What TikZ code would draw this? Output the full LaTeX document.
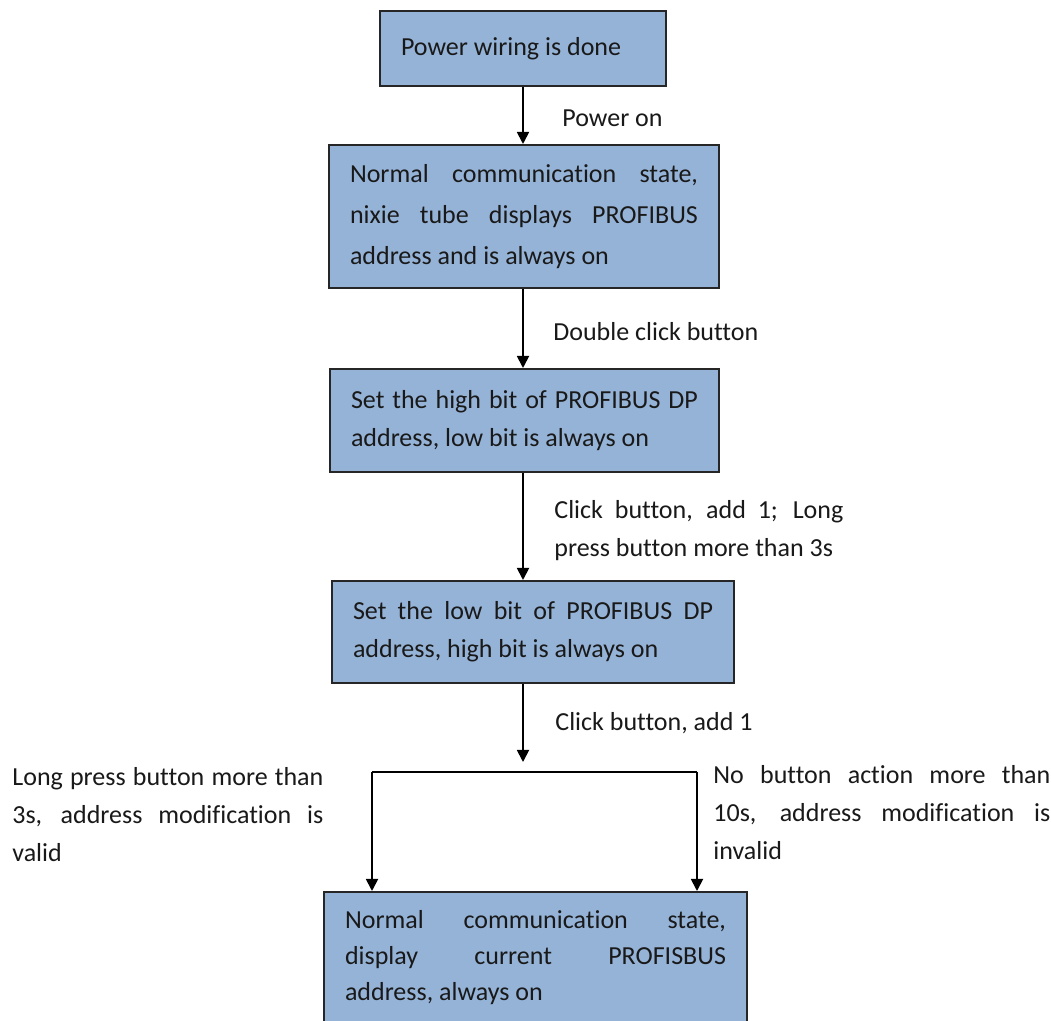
\documentclass[tikz,border=0pt]{standalone}
\usepackage{fontspec}
\setmainfont[Ligatures={NoCommon}]{Carlito}
\usetikzlibrary{arrows.meta}
\hyphenpenalty=10000
\tolerance=10000
\hbadness=10000
\definecolor{boxblue}{RGB}{149,179,215}
\definecolor{boxline}{RGB}{38,38,38}
\definecolor{inktext}{RGB}{25,25,25}
\begin{document}
\begin{tikzpicture}[x=0.5pt,y=-0.5pt,
  statebox/.style={draw=boxline, fill=boxblue, line width=1pt, inner xsep=10.5pt, inner ysep=0pt, align=justify, text=inktext, font=\fontsize{13}{19}\selectfont},
  condtext/.style={inner sep=0pt, anchor=west, align=justify, text=inktext, font=\fontsize{13}{19}\selectfont}]
\tikzset{>={Triangle[length=6pt,width=6pt]}}
\clip (0,0) rectangle (1051,1021);
\fill[white] (0,0) rectangle (1051,1021);
\node[statebox, text width=122pt, minimum height=37.5pt] (wired) at (523,48.5) {Power wiring is done};
\node[statebox, text width=174pt, minimum height=71.5pt, font=\fontsize{13}{20.5}\selectfont] (normal) at (524,216.5) {Normal communication state,\linebreak nixie tube displays PROFIBUS\linebreak address and is always on};
\node[statebox, text width=173.5pt, minimum height=51.5pt] (sethigh) at (524.5,420.5) {Set the high bit of PROFIBUS DP\linebreak address, low bit is always on};
\node[statebox, text width=180pt, minimum height=51pt] (setlow) at (533,632) {Set the low bit of PROFIBUS DP\linebreak address, high bit is always on};
\node[statebox, text width=190.5pt, minimum height=66pt, font=\fontsize{13}{18}\selectfont] (finish) at (535.5,958) {Normal communication state,\linebreak display current PROFISBUS\linebreak address, always on};
\node[condtext] (lblpower) at (562,118) {Power on};
\node[condtext] (lbldouble) at (553,332) {Double click button};
\node[condtext, text width=144.5pt] (lblhigh) at (554,531) {Click button, add 1; Long\linebreak press button more than 3s};
\node[condtext] (lbllow) at (555,723) {Click button, add 1};
\node[condtext, text width=155.5pt] (lblvalid) at (12,814.5) {Long press button more than\linebreak 3s, address modification is\linebreak valid};
\node[condtext, text width=168.5pt] (lblinvalid) at (713,812.5) {No button action more than\linebreak 10s, address modification is\linebreak invalid};
\coordinate (axis) at (523,0);
\coordinate (split) at (523,772);
\coordinate (splitL) at (372,772);
\coordinate (splitR) at (697,772);
\begin{scope}[line width=0.9pt]
\draw[->] (wired.south -| axis) -- (normal.north -| axis);
\draw[->] (normal.south -| axis) -- (sethigh.north -| axis);
\draw[->] (sethigh.south -| axis) -- (setlow.north -| axis);
\draw[->, shorten >=5pt] (setlow.south -| axis) -- (split);
\draw (splitL) -- (splitR);
\draw[->] (splitL) -- (splitL |- finish.north);
\draw[->] (splitR) -- (splitR |- finish.north);
\end{scope}
\end{tikzpicture}
\end{document}
